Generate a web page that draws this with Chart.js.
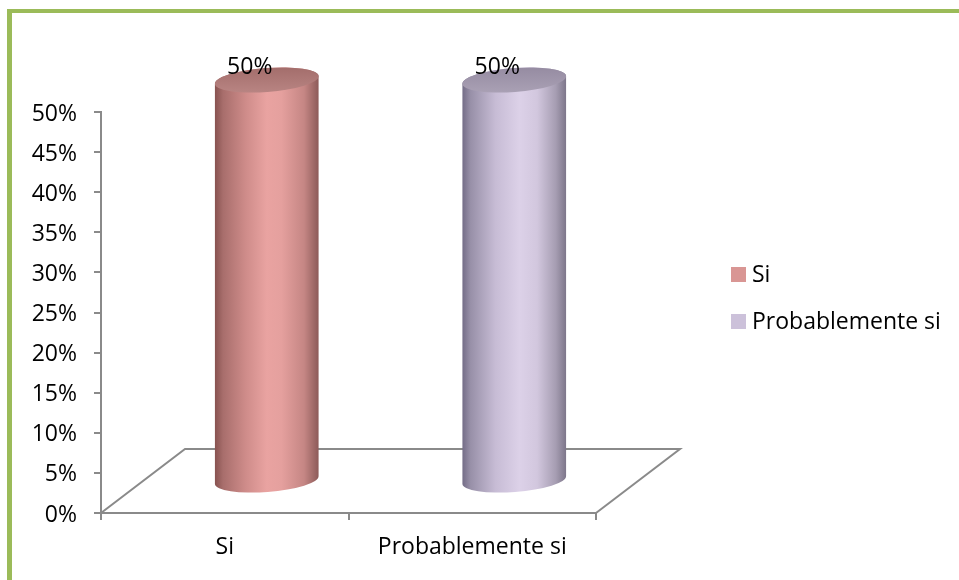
<!DOCTYPE html>
<html>
<head>
<meta charset="utf-8">
<script src="https://cdn.jsdelivr.net/npm/chart.js@4/dist/chart.umd.min.js"></script>
<style>
  html, body { margin: 0; padding: 0; background: #ffffff; }
  #wrap { width: 959px; height: 580px; position: relative; }
</style>
</head>
<body>
<div id="wrap"><canvas id="c" width="959" height="580"></canvas></div>
<script>
// Categories and values (percent)
const categories = ['Si', 'Probablemente si'];
const siValues = [50, null];
const probValues = [null, 50];
const yTickMin = 0;
const yTickMax = 50;
const yTickStep = 5;

const FONT = '"Open Sans", "DejaVu Sans", sans-serif';
const FONT_SIZE = 23;
const AXIS_GRAY = '#8a8a8a';

// colour ramps for the shaded cylinders
const shades = {
  'Si': {
    swatch: '#D99694',
    body: [[0, '#87524f'], [0.08, '#a86e6c'], [0.3, '#cf8c8a'], [0.5, '#e9a3a1'], [0.64, '#e5a09e'], [0.86, '#c58684'], [0.95, '#a06a68'], [1, '#8c5a58']],
    cap: ['#a46e6c', '#b88482']
  },
  'Probablemente si': {
    swatch: '#CCC1DA',
    body: [[0, '#736c86'], [0.08, '#9890a8'], [0.32, '#c7bcd5'], [0.55, '#dcd1e8'], [0.72, '#d2c7de'], [0.9, '#a69db2'], [1, '#7d768a']],
    cap: ['#968ca2', '#a9a0b4']
  }
};

// depth of the 3D floor in pixels (back edge offset)
const DEPTH_X = 84;
const DEPTH_Y = -64;
const TILT = -0.075;

function cylinder(ctx, cx, topY, botY, rx, ry, cfg) {
  const cosT = Math.cos(TILT), sinT = Math.sin(TILT);
  // body
  const g = ctx.createLinearGradient(cx - rx, 0, cx + rx, 0);
  cfg.body.forEach(s => g.addColorStop(s[0], s[1]));
  ctx.beginPath();
  ctx.ellipse(cx, botY, rx, ry, TILT, 0, Math.PI, false);
  ctx.lineTo(cx - rx * cosT, topY - rx * sinT);
  ctx.ellipse(cx, topY, rx, ry, TILT, Math.PI, 2 * Math.PI, false);
  ctx.closePath();
  ctx.fillStyle = g;
  ctx.fill();
  // top cap
  const cg = ctx.createLinearGradient(cx, topY - ry, cx, topY + ry);
  cg.addColorStop(0, cfg.cap[0]);
  cg.addColorStop(1, cfg.cap[1]);
  ctx.beginPath();
  ctx.ellipse(cx, topY, rx, ry, TILT, 0, 2 * Math.PI);
  ctx.fillStyle = cg;
  ctx.fill();
}

const scene3d = {
  id: 'scene3d',
  beforeDraw(chart) {
    const ctx = chart.ctx;
    ctx.save();
    ctx.fillStyle = '#ffffff';
    ctx.fillRect(0, 0, chart.width, chart.height);
    // frame
    ctx.fillStyle = '#9BBB59';
    ctx.fillRect(7, 9, chart.width - 7, 4);
    ctx.fillRect(7, 9, 5, chart.height - 9);
    ctx.restore();
  },
  beforeDatasetsDraw(chart) {
    const ctx = chart.ctx;
    const a = chart.chartArea;
    ctx.save();
    ctx.strokeStyle = AXIS_GRAY;
    ctx.lineWidth = 2;
    ctx.beginPath();
    ctx.moveTo(a.left, a.bottom);
    ctx.lineTo(a.left + DEPTH_X, a.bottom + DEPTH_Y);
    ctx.lineTo(a.right + DEPTH_X, a.bottom + DEPTH_Y);
    ctx.lineTo(a.right, a.bottom);
    ctx.stroke();
    ctx.restore();
  },
  afterDatasetsDraw(chart) {
    const ctx = chart.ctx;
    ctx.save();
    chart.data.datasets.forEach((ds, di) => {
      const meta = chart.getDatasetMeta(di);
      meta.data.forEach((el, i) => {
        const v = ds.data[i];
        if (v === null || v === undefined) return;
        const p = el.getProps(['x', 'y', 'base', 'width'], true);
        const cx = p.x + DEPTH_X / 2;
        const topY = p.y + DEPTH_Y / 2;
        const botY = p.base + DEPTH_Y / 2;
        cylinder(ctx, cx, topY, botY, p.width / 2, 12, shades[ds.label]);
        // value label
        ctx.fillStyle = '#000000';
        ctx.font = FONT_SIZE + 'px ' + FONT;
        ctx.textAlign = 'center';
        ctx.textBaseline = 'middle';
        ctx.fillText(v + '%', p.x + 25, p.y - 45);
      });
    });
    ctx.restore();
  },
  afterDraw(chart) {
    // legend
    const ctx = chart.ctx;
    ctx.save();
    ctx.font = FONT_SIZE + 'px ' + FONT;
    ctx.textBaseline = 'middle';
    ctx.textAlign = 'left';
    chart.data.datasets.forEach((ds, i) => {
      const y = 267 + i * 47;
      ctx.fillStyle = shades[ds.label].swatch;
      ctx.fillRect(731, y, 15, 15);
      ctx.fillStyle = '#000000';
      ctx.fillText(ds.label, 752, y + 8);
    });
    ctx.restore();
  }
};

new Chart(document.getElementById('c'), {
  type: 'bar',
  data: {
    labels: categories,
    datasets: [
      { label: 'Si', data: siValues, backgroundColor: 'rgba(0,0,0,0)', borderWidth: 0 },
      { label: 'Probablemente si', data: probValues, backgroundColor: 'rgba(0,0,0,0)', borderWidth: 0 }
    ]
  },
  options: {
    responsive: false,
    devicePixelRatio: 1,
    animation: false,
    events: [],
    layout: { padding: { top: 112, right: 363, bottom: 0, left: 0 } },
    datasets: { bar: { grouped: false, barPercentage: 0.42, categoryPercentage: 1 } },
    plugins: { legend: { display: false }, tooltip: { enabled: false } },
    scales: {
      x: {
        afterFit(scale) { scale.height = 67; },
        border: { display: true, color: AXIS_GRAY, width: 2 },
        grid: { display: true, offset: true, drawOnChartArea: false, drawTicks: true, tickLength: 7, color: AXIS_GRAY, lineWidth: 2 },
        ticks: { color: '#000000', font: { family: FONT, size: FONT_SIZE }, padding: 14, maxRotation: 0 }
      },
      y: {
        min: yTickMin,
        max: yTickMax,
        afterFit(scale) { scale.width = 101; },
        border: { display: true, color: AXIS_GRAY, width: 2 },
        grid: { display: true, drawOnChartArea: false, drawTicks: true, tickLength: 7, color: AXIS_GRAY, lineWidth: 2 },
        ticks: { stepSize: yTickStep, color: '#000000', font: { family: FONT, size: FONT_SIZE }, padding: 17, labelOffset: 2, callback: v => v + '%' }
      }
    }
  },
  plugins: [scene3d]
});
</script>
</body>
</html>
